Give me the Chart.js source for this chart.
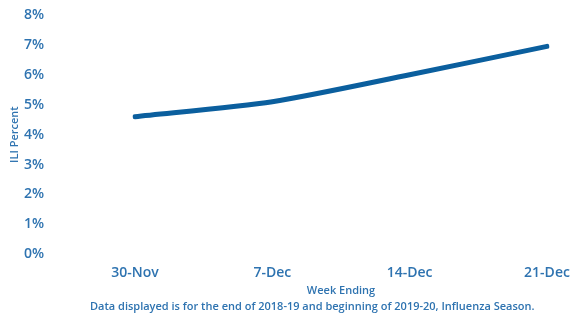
<!DOCTYPE html>
<html>
<head>
<meta charset="utf-8">
<script src="https://cdn.jsdelivr.net/npm/chart.js@4/dist/chart.umd.min.js"></script>
<style>
  html, body { margin: 0; padding: 0; background: #fff; }
  #wrap { position: relative; width: 571px; height: 315px; }
  #note {
    position: absolute; left: 90px; top: 298px;
    font: 600 11px/16px 'Open Sans', sans-serif; color: #2e73b0;
    white-space: nowrap;
  }
</style>
</head>
<body>
<div id="wrap">
  <canvas id="myChart"></canvas>
  <div id="note"></div>
</div>
<script>
var weeks = ['30-Nov', '7-Dec', '14-Dec', '21-Dec'];
var ili_pct = [4.6, 5.1, 6.0, 6.95];
var y_ticks = [0, 1, 2, 3, 4, 5, 6, 7, 8];
var note = 'Data displayed is for the end of 2018-19 and beginning of 2019-20, Influenza Season.';

var blue = '#0b5f9e';
var txt = '#2e73b0';

document.getElementById('note').innerText = note;

var ctx = document.getElementById('myChart');
var chart = new Chart(ctx, {
    type: 'line',
    data: {
        labels: weeks,
        datasets: [
            {
                label: 'ILI Percent',
                data: ili_pct,
                borderColor: blue,
                backgroundColor: blue,
                borderWidth: 5,
                borderCapStyle: 'round',
                pointRadius: 0,
                tension: 0.25,
                fill: false
            }
        ]
    },
    options: {
        responsive: true,
        maintainAspectRatio: false,
        animation: false,
        layout: { padding: { top: 15, right: 0, left: 0, bottom: 0 } },
        scales: {
            x: {
                offset: false,
                afterFit: function (axis) {
                    axis.paddingLeft = 0;
                    axis.paddingRight = 24;
                },
                grid: { display: false },
                border: { display: false },
                ticks: {
                    color: txt,
                    padding: 2,
                    maxRotation: 0,
                    font: { family: 'Open Sans', size: 14, weight: '600' }
                },
                title: {
                    display: true,
                    text: 'Week Ending',
                    color: txt,
                    padding: { top: 0, bottom: 16 },
                    font: { family: 'Open Sans', size: 11, weight: '600', lineHeight: 1.45 }
                }
            },
            y: {
                min: 0,
                max: 8,
                afterBuildTicks: function (axis) {
                    axis.ticks = y_ticks.map(function (v) { return { value: v }; });
                },
                afterFit: function (axis) {
                    // keep the wide gap between labels and plot without big top/bottom padding
                    axis.width = 135;
                    axis.paddingTop = 9;
                    axis.paddingBottom = 0;
                },
                grid: { display: false },
                border: { display: false },
                ticks: {
                    color: txt,
                    padding: 83,
                    font: { family: 'Open Sans', size: 14, weight: '600' },
                    callback: function (v) { return v + '%'; }
                },
                title: {
                    display: true,
                    text: 'ILI Percent',
                    color: txt,
                    padding: { top: 8, bottom: 0 },
                    font: { family: 'Open Sans', size: 11, weight: '600' }
                }
            }
        },
        plugins: {
            legend: { display: false },
            tooltip: { enabled: false }
        }
    }
});
</script>
</body>
</html>
